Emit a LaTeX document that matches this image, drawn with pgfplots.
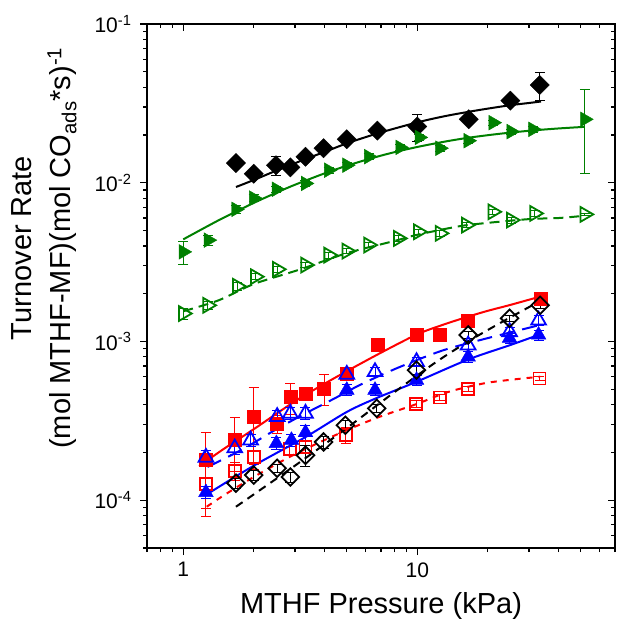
\documentclass[border=0pt]{standalone}
\usepackage{pgfplots}
\pgfplotsset{compat=1.18}
\usepackage{fontspec}
\setmainfont{Liberation Sans}
\definecolor{ogreen}{RGB}{0,128,0}
\definecolor{ored}{RGB}{255,0,0}
\definecolor{oblue}{RGB}{0,0,255}
\pgfplotsset{
 ebar/.style={error bars/.cd, y dir=both, y explicit,
  error bar style={line width=1pt,solid},
  error mark options={rotate=90,mark size=5pt,line width=1pt,solid}},
 fitline/.style={line width=2pt,smooth,no marks},
}
\begin{document}
\begin{tikzpicture}
\path[use as bounding box] (-147pt,-79pt) rectangle (470pt,548pt);
\begin{axis}[name=main,at={(0pt,0pt)},anchor=south west,width=468pt,height=524pt,scale only axis,xmode=log,ymode=log,
  xmin=0.7,xmax=70,ymin=5e-5,ymax=0.1,
  axis lines=box,
  xtick={1,10},
  minor xtick={0.7,0.8,0.9,2,3,4,5,6,7,8,9,20,30,40,50,60,70},
  ytick={1e-4,1e-3,1e-2,1e-1},
  minor ytick={5e-5,6e-5,7e-5,8e-5,9e-5,2e-4,3e-4,4e-4,5e-4,6e-4,7e-4,8e-4,9e-4,2e-3,3e-3,4e-3,5e-3,6e-3,7e-3,8e-3,9e-3,2e-2,3e-2,4e-2,5e-2,6e-2,7e-2,8e-2,9e-2},
  major tick length=7pt, minor tick length=4pt,
  major tick style={black,line width=1.2pt},
  minor tick style={black,line width=1.2pt},
  axis line style={black,line width=1.5pt},
  xtick pos=left, ytick pos=left, tick align=outside,
  xticklabels={1,10},
  yticklabels={10\textsuperscript{-4},10\textsuperscript{-3},10\textsuperscript{-2},10\textsuperscript{-1}},
  tick label style={font=\fontsize{21}{25}\selectfont},
  xticklabel style={yshift=-4pt},
  yticklabel style={xshift=-5pt},
  xlabel={MTHF Pressure (kPa)},
  ylabel={Turnover Rate\\(mol MTHF-MF)(mol CO\textsubscript{ads}*s)\textsuperscript{-1}},
  xlabel style={font=\fontsize{29}{35}\selectfont, at={(rel axis cs:0.5,0)}, anchor=center, yshift=-58pt},
  ylabel style={font=\fontsize{29}{39}\selectfont, align=center, at={(rel axis cs:0,0.5)}, anchor=center, xshift=38pt, yshift=103pt},
]
% ---- black filled diamonds
\addplot[black,fitline] coordinates {(1.68,0.0094)(2,0.0104)(2.49,0.0119)(3.33,0.0141)(4,0.0156)(5,0.0177)(6.8,0.0205)(10,0.0240)(13,0.0262)(16.6,0.0280)(20,0.0293)(25,0.0308)(30,0.0318)(33.8,0.0325)};
\addplot[black,only marks,mark=square*,mark size=6.8pt,mark options={rotate=45},ebar] coordinates {
(1.68,0.0133) +- (0,0.0003) (2.0,0.0114) +- (0,0.0003) (2.49,0.0129) +- (0,0.0018) (2.87,0.0125) +- (0,0.0003)
(3.33,0.0146) +- (0,0.0003) (3.98,0.0165) +- (0,0.0003) (5.0,0.0188) +- (0,0.0003) (6.75,0.0213) +- (0,0.0003)
(10.0,0.0226) +- (0,0.0043) (16.6,0.0251) +- (0,0.0005) (25.0,0.0329) +- (0,0.0005) (33.4,0.0413) +- (0,0.0085)};
% ---- green filled right triangles
\addplot[ogreen,fitline] coordinates {(1,0.0044)(1.28,0.00536)(1.5,0.00606)(2,0.00746)(2.5,0.00866)(3,0.00971)(4,0.01143)(5,0.0128)(6.5,0.01438)(8,0.01559)(10,0.0168)(13,0.01812)(16.5,0.0192)(22,0.02027)(30,0.02125)(40,0.02197)(52,0.0225)};
\addplot[ogreen,only marks,mark=triangle*,mark size=8.5pt,mark options={rotate=-90},ebar] coordinates {
(1.0,0.00367) +- (0,0.0006) (1.28,0.00435) +- (0,0.0003) (1.68,0.0068) +- (0,0.0004) (2.0,0.0080) +- (0,0.0004)
(2.5,0.0091) +- (0,0.0004) (3.33,0.0099) +- (0,0.0004) (4.18,0.0120) +- (0,0.0005) (5.0,0.0129) +- (0,0.0005)
(6.2,0.0146) +- (0,0.0006) (8.44,0.0167) +- (0,0.0007) (10.2,0.0193) +- (0,0.0008) (12.5,0.0165) +- (0,0.0007)
(16.5,0.0184) +- (0,0.0007) (21.1,0.0239) +- (0,0.0008) (25.2,0.0210) +- (0,0.0008) (31.2,0.0217) +- (0,0.0009)
(52,0.0251) +- (0,0.0137)};
% ---- green open right triangles
\addplot[ogreen,fitline,dash pattern=on 10pt off 6pt] coordinates {(1.0,0.00155)(1.42,0.00182)(2,0.0023)(3.17,0.00285)(5,0.0036)(8,0.0043)(10,0.0047)(14.9,0.0053)(19.1,0.00555)(30,0.0059)(40.6,0.0060)(52,0.0062)};
\addplot[ogreen,only marks,mark=triangle,mark size=8.5pt,mark options={rotate=-90,line width=1.8pt,solid},ebar] coordinates {
(1.0,0.00150) +- (0,0.00012) (1.27,0.00169) +- (0,0.0001) (1.70,0.00223) +- (0,0.00012) (2.03,0.00256) +- (0,0.00012)
(2.52,0.00285) +- (0,0.00012) (3.33,0.00303) +- (0,0.00012) (4.18,0.00350) +- (0,0.00015) (5.0,0.00371) +- (0,0.00015)
(6.19,0.00405) +- (0,0.00015) (8.3,0.00446) +- (0,0.00018) (10.1,0.00491) +- (0,0.0002) (12.5,0.00480) +- (0,0.0002)
(16.2,0.00541) +- (0,0.0002) (21.0,0.00656) +- (0,0.00025) (25.2,0.00582) +- (0,0.00025) (31.7,0.00641) +- (0,0.00025)
(52,0.00632) +- (0,0.0001)};
% ---- red filled squares
\addplot[ored,fitline] coordinates {(1.17,0.000164)(1.5,0.000212)(2,0.00028)(3,0.00042)(4,0.00054)(5,0.00065)(7,0.00085)(10,0.00111)(13,0.00128)(16.4,0.00143)(20,0.00156)(25,0.0017)(34,0.00193)};
\addplot[ored,only marks,mark=square*,mark size=6.5pt,ebar] coordinates {
(1.25,0.000179) +- (0,0.00009) (1.66,0.000242) +- (0,0.00009) (2.0,0.000336) +- (0,0.00018) (2.52,0.000302) +- (0,0.00004)
(2.87,0.000447) +- (0,0.0001) (3.35,0.000468) +- (0,0.00003) (4.0,0.000506) +- (0,0.00011) (5.0,0.000623) +- (0,0.00005)
(6.75,0.000948) +- (0,0.00005) (9.9,0.0011) +- (0,0.00005) (12.5,0.00111) +- (0,0.00005) (16.4,0.00135) +- (0,0.00006)
(33.6,0.00187) +- (0,0.00008)};
% ---- red open squares
\addplot[ored,fitline,dash pattern=on 6pt off 6pt] coordinates {(1.26,0.000091)(1.5,0.000108)(2,0.00014)(3,0.000195)(4.6,0.000262)(6.7,0.00033)(10,0.000405)(13.5,0.00048)(20,0.00055)(33.5,0.0006)};
\addplot[ored,only marks,mark=square,mark size=6pt,mark options={line width=1.8pt,solid},ebar] coordinates {
(1.25,0.000126) +- (0,0.000047) (1.66,0.000153) +- (0,0.00002) (2.0,0.000187) +- (0,0.00002) (2.85,0.00021) +- (0,0.00002)
(3.33,0.000217) +- (0,0.00002) (4.95,0.000257) +- (0,0.00003) (9.9,0.000403) +- (0,0.00002) (12.5,0.000444) +- (0,0.00002)
(16.5,0.000503) +- (0,0.00002) (33.3,0.000585) +- (0,0.00002)};
% ---- blue filled triangles
\addplot[oblue,fitline] coordinates {(1.25,0.000108)(2,0.000165)(3.33,0.00025)(5,0.00036)(6.7,0.00044)(10,0.00056)(16.5,0.00077)(25,0.00095)(33,0.0011)};
\addplot[oblue,only marks,mark=triangle*,mark size=8.5pt,ebar] coordinates {
(1.25,0.000112) +- (0,0.00001) (2.5,0.000228) +- (0,0.00002) (2.9,0.000239) +- (0,0.00002) (3.33,0.000267) +- (0,0.00003)
(5.0,0.000494) +- (0,0.00004) (6.6,0.000494) +- (0,0.00004) (9.93,0.000571) +- (0,0.00004) (16.5,0.0008) +- (0,0.00006)
(24.8,0.00105) +- (0,0.00008) (33,0.0011) +- (0,0.00008)};
% ---- blue open triangles
\addplot[oblue,fitline,dash pattern=on 15pt off 8pt] coordinates {(1.27,0.000162)(1.8,0.00021)(2.5,0.00028)(3.3,0.00035)(4.46,0.00044)(5.8,0.00054)(8.4,0.00069)(12.9,0.00088)(20,0.00105)(30,0.00122)(34,0.00128)};
\addplot[oblue,only marks,mark=triangle,mark size=8.5pt,mark options={line width=1.8pt,solid},ebar] coordinates {
(1.25,0.000186) +- (0,0.00002) (1.66,0.000213) +- (0,0.00002) (1.94,0.000239) +- (0,0.00002) (2.52,0.000336) +- (0,0.00003)
(2.87,0.000352) +- (0,0.00003) (3.33,0.000352) +- (0,0.00003) (5.0,0.00062) +- (0,0.00004) (6.6,0.000644) +- (0,0.00004)
(9.93,0.000745) +- (0,0.00005) (16.5,0.000948) +- (0,0.00006) (24.8,0.00115) +- (0,0.00008) (33,0.00136) +- (0,0.0001)};
% ---- black open diamonds
\addplot[black,fitline,dash pattern=on 8pt off 6pt] coordinates {(1.68,0.000091)(3,0.000165)(5,0.000285)(8,0.00048)(12,0.00074)(16.5,0.00100)(20,0.00118)(25,0.00142)(34,0.00182)};
\addplot[black,only marks,mark=square,mark size=6.2pt,mark options={rotate=45,line width=1.8pt,solid},ebar] coordinates {
(1.68,0.000128) +- (0,0.00001) (2.0,0.000144) +- (0,0.00001) (2.52,0.000159) +- (0,0.00001) (2.87,0.00014) +- (0,0.00001)
(3.33,0.000192) +- (0,0.00003) (3.98,0.000233) +- (0,0.00002) (4.93,0.000297) +- (0,0.00002) (6.71,0.000379) +- (0,0.00002)
(9.93,0.00066) +- (0,0.00004) (16.5,0.0011) +- (0,0.00005) (24.8,0.0014) +- (0,0.00006) (33.5,0.00169) +- (0,0.00008)};
\end{axis}
\begin{axis}[at={(0pt,0pt)},anchor=south west,width=468pt,height=524pt,scale only axis,xmode=log,ymode=log,
  xmin=0.7,xmax=70,ymin=5e-5,ymax=0.1,
  axis lines=box,
  xtick={1,10},
  minor xtick={0.7,0.8,0.9,2,3,4,5,6,7,8,9,20,30,40,50,60,70},
  ytick={1e-4,1e-3,1e-2,1e-1},
  minor ytick={5e-5,6e-5,7e-5,8e-5,9e-5,2e-4,3e-4,4e-4,5e-4,6e-4,7e-4,8e-4,9e-4,2e-3,3e-3,4e-3,5e-3,6e-3,7e-3,8e-3,9e-3,2e-2,3e-2,4e-2,5e-2,6e-2,7e-2,8e-2,9e-2},
  major tick length=7pt, minor tick length=4pt,
  major tick style={black,line width=1.2pt},
  minor tick style={black,line width=1.2pt},
  axis line style={black,line width=1.5pt},
  xticklabels={}, yticklabels={}, xtick pos=right, ytick pos=right, tick align=inside]
\addplot[draw=none] coordinates {(1,0.001)};
\end{axis}
\draw[black,line width=1.5pt] (0pt,0pt) -- (0pt,524pt);
\draw[black,line width=1.5pt] (0pt,524pt) -- (468pt,524pt);
\fill[black] (0pt,-0.75pt) rectangle (468pt,0.75pt);
\fill[black] (467.25pt,0pt) rectangle (468.75pt,524pt);
\end{tikzpicture}
\end{document}
